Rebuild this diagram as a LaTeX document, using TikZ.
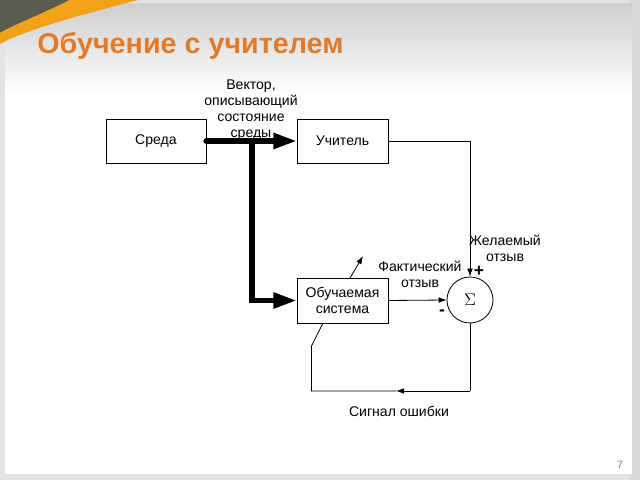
\documentclass[tikz,border=0pt]{standalone}
\usepackage{fontspec}
\setmainfont{Liberation Sans}
\usetikzlibrary{arrows.meta,positioning,shapes.geometric}
\definecolor{slidedark}{RGB}{92,92,76}
\definecolor{slideorange}{RGB}{242,162,24}
\definecolor{titleorange}{RGB}{226,122,40}

\begin{document}
\begin{tikzpicture}[
    x=0.03cm, y=-0.03cm,
    line width=0.7pt,
    block/.style={
        draw,
        align=center,
        minimum height=1.32cm,
        inner sep=0pt,
        font=\fontsize{12}{13.7}\selectfont
    },
    lbl/.style={
        align=center,
        inner sep=0pt,
        font=\fontsize{12}{13.7}\selectfont
    },
    arrow/.style={-{Latex[length=2.4mm,width=1.7mm]}},
    bigarrow/.style={line width=4.3pt,-{Triangle[length=7mm,width=4.6mm]}}
]

% slide background
\useasboundingbox (0,0) rectangle (640,480);
\fill[gray!22] (0,0) rectangle (640,480);
\fill[gray!30] (630,0) rectangle (640,480);
\shade[top color=gray!38, bottom color=white] (5,4) rectangle (632,95);
\fill[white] (5,95) rectangle (632,474);
\fill[slidedark] (0,0) -- (70,0) .. controls (42,14) and (16,24) .. (0,33) -- cycle;
\fill[slideorange] (0,33) .. controls (16,24) and (42,14) .. (70,0) -- (138,0)
    .. controls (85,14) and (30,28) .. (0,44) -- cycle;

\node[anchor=base west, inner sep=0pt, text=titleorange,
      font=\fontsize{24.5}{28}\selectfont\bfseries] (title) at (37,54) {Обучение с учителем};

% blocks
\node[block, minimum width=3cm] (env) at (156,141) {Среда};
\node[block, minimum width=2.73cm] (teacher) at (342.5,141) {Учитель};
\node[block, minimum width=2.73cm, minimum height=1.35cm] (learner) at (342.5,300.5) {Обучаемая\\система};
\node[circle, draw, minimum size=1.38cm, inner sep=0pt,
      font=\fontsize{14}{14}\selectfont] (sum) at (470,300) {$\Sigma$};

% labels
\node[lbl] (vec) at (251,110) {Вектор,\\описывающий\\состояние\\среды};
\node[lbl] (want) at (505,248) {Желаемый\\отзыв};
\node[lbl] (fact) at (420,274) {Фактический\\отзыв};
\node[lbl] (err) at (399,411) {Сигнал ошибки};
\node[inner sep=0pt, font=\fontsize{15}{15}\selectfont\bfseries] (plus) at (479,271) {+};
\node[inner sep=0pt, font=\fontsize{15}{15}\selectfont\bfseries] (minus) at (442,313) {-};
\node[inner sep=0pt, text=gray, font=\fontsize{9}{9}\selectfont] (page) at (620,465) {7};

% connectors
\coordinate (branch) at (252,141);
\draw[bigarrow] (env.east) -- (teacher.west);
\fill (env.east) circle (0.09cm);
\draw[bigarrow] (branch) |- (learner.west);

\draw[arrow] (teacher.east) -| (sum.north);
\draw[arrow] (learner.east) -- (sum.west);

\coordinate (fbr) at (470,391);
\coordinate (fbmid) at (396,391);
\coordinate (fbl) at (311.5,391);
\coordinate (fbup) at (311.5,346);
\coordinate (fbend) at (323,323);
\draw (sum.south) -- (fbr);
\draw[arrow] (fbr) -- (fbmid);
\draw (fbmid) -- (fbl) -- (fbup) -- (fbend);

\coordinate (adjfrom) at (350,278);
\coordinate (adjto) at (363,256);
\draw[arrow] (adjfrom) -- (adjto);

\end{tikzpicture}
\end{document}
